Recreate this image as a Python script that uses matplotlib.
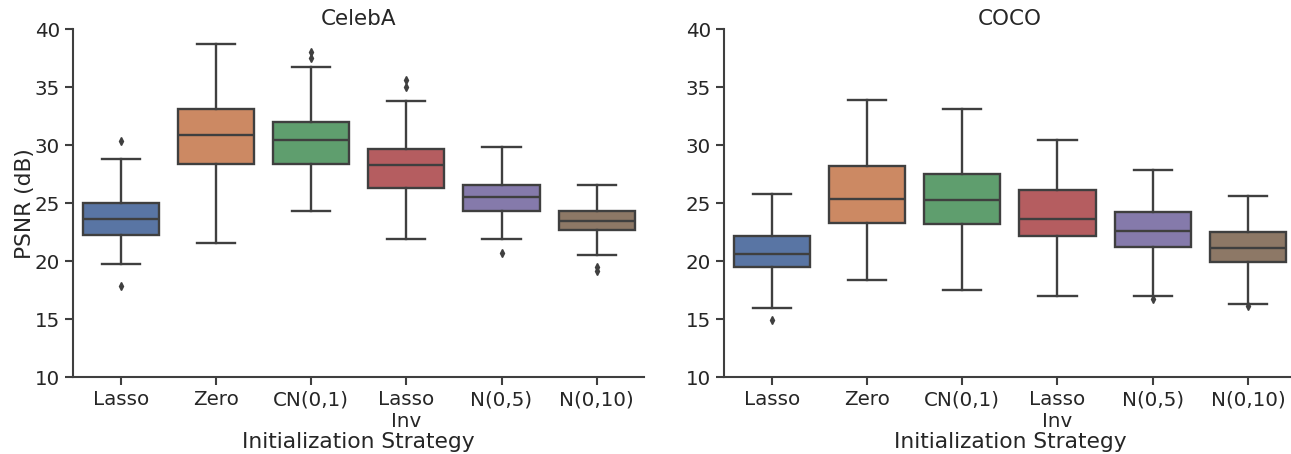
import matplotlib
matplotlib.use('Agg')
import matplotlib.pyplot as plt
import seaborn as sns

# Box statistics (PSNR in dB)
strategies = ['Lasso', 'Zero', 'CN(0,1)', 'Lasso\nInv', 'N(0,5)', 'N(0,10)']

celeba_whislo = [19.74, 21.58, 24.30, 21.95, 21.89, 20.54]
celeba_q1 = [22.23, 28.34, 28.37, 26.30, 24.30, 22.72]
celeba_med = [23.61, 30.89, 30.43, 28.25, 25.53, 23.44]
celeba_q3 = [25.04, 33.15, 32.00, 29.68, 26.59, 24.33]
celeba_whishi = [28.83, 38.71, 36.76, 33.81, 29.83, 26.59]
celeba_fliers = [[30.34, 17.88], [], [37.99, 37.51], [35.62, 34.99], [20.69], [19.51, 19.17]]

coco_whislo = [15.93, 18.37, 17.48, 17.02, 16.96, 16.30]
coco_q1 = [19.48, 23.32, 23.24, 22.15, 21.23, 19.97]
coco_med = [20.66, 25.39, 25.30, 23.61, 22.61, 21.17]
coco_q3 = [22.15, 28.17, 27.51, 26.16, 24.27, 22.49]
coco_whishi = [25.82, 33.87, 33.09, 30.40, 27.82, 25.62]
coco_fliers = [[14.93], [], [], [], [16.75], [16.13]]

palette = [sns.desaturate(c, 0.75) for c in sns.color_palette('deep', 6)]
edge = '#3f3f3f'
txt = '#262626'


def make_stats(lo, q1, med, q3, hi, fl):
    return [dict(whislo=a, q1=b, med=c, q3=d, whishi=e, fliers=f, label=lab)
            for a, b, c, d, e, f, lab in zip(lo, q1, med, q3, hi, fl, strategies)]


def draw(ax, stats, title):
    lw = 1.7
    bp = ax.bxp(stats, positions=range(len(stats)), widths=0.8, patch_artist=True,
                boxprops=dict(edgecolor=edge, linewidth=lw),
                medianprops=dict(color=edge, linewidth=lw),
                whiskerprops=dict(color=edge, linewidth=lw),
                capprops=dict(color=edge, linewidth=lw),
                flierprops=dict(marker='d', markersize=4, markerfacecolor=edge,
                                markeredgecolor=edge))
    for patch, col in zip(bp['boxes'], palette):
        patch.set_facecolor(col)
    ax.set_xlim(-0.5, 5.5)
    ax.set_ylim(10, 40)
    ax.set_yticks(range(10, 41, 5))
    ax.set_xticks(range(len(strategies)))
    ax.set_xticklabels(strategies, fontsize=14.3, color=txt, linespacing=1.15)
    ax.tick_params(axis='y', labelsize=14.3, labelcolor=txt)
    ax.tick_params(length=6, width=1.5, color=edge)
    ax.set_xlabel('Initialization Strategy', fontsize=15.7, color=txt, labelpad=1)
    ax.set_title(title, fontsize=15.5, color=txt, pad=3)
    for s in ['top', 'right']:
        ax.spines[s].set_visible(False)
    for s in ['left', 'bottom']:
        ax.spines[s].set_color(edge)
        ax.spines[s].set_linewidth(1.5)


fig = plt.figure(figsize=(12.91, 4.54), dpi=100)
ax1 = fig.add_axes([0.0566, 0.169, 0.4425, 0.767])
ax2 = fig.add_axes([0.561, 0.169, 0.4425, 0.767])

draw(ax1, make_stats(celeba_whislo, celeba_q1, celeba_med, celeba_q3, celeba_whishi, celeba_fliers), 'CelebA')
draw(ax2, make_stats(coco_whislo, coco_q1, coco_med, coco_q3, coco_whishi, coco_fliers), 'COCO')
ax1.set_ylabel('PSNR (dB)', fontsize=15.7, color=txt, labelpad=0)

fig.savefig('out.png', dpi=100)
